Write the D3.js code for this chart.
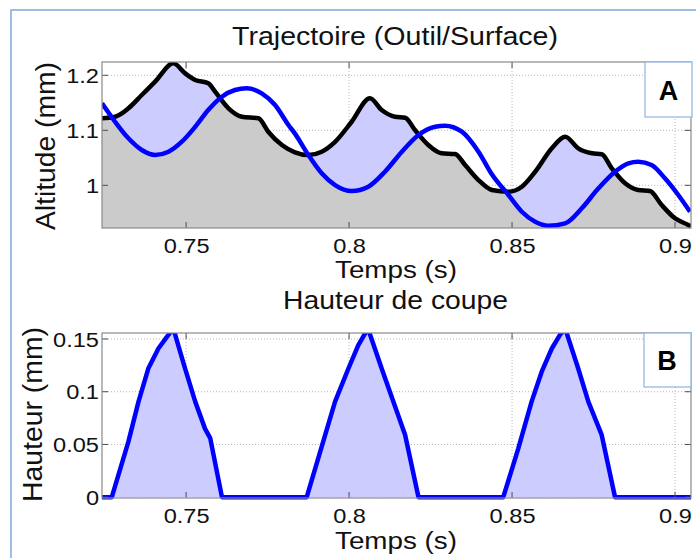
<!DOCTYPE html>
<html><head><meta charset="utf-8">
<script src="https://cdn.jsdelivr.net/npm/d3@7"></script>
<style>
html,body{margin:0;padding:0;background:#fff;}
svg{display:block;font-family:"Liberation Sans",Arial,Helvetica,sans-serif;}
</style></head>
<body>
<svg id="chart" width="696" height="558"></svg>
<script>
// ---- Data ----
const timeSurface = [0.7242,0.7282,0.7323,0.7364,0.7405,0.7461,0.7497,0.7528,0.7568,0.7589,0.7630,0.7671,0.7722,0.7752,0.7794,0.7834,0.7875,0.7916,0.7957,0.8008,0.8064,0.8100,0.8141,0.8172,0.8202,0.8243,0.8284,0.8325,0.8356,0.8397,0.8438,0.8489,0.8530,0.8571,0.8622,0.8663,0.8703,0.8745,0.8775,0.8806,0.8847,0.8887,0.8923,0.8959,0.9000,0.9041,0.9049];
const altSurface  = [1.122,1.1247,1.140,1.1642,1.1884,1.2218,1.2036,1.1915,1.1855,1.1702,1.140,1.1247,1.1218,1.0975,1.0733,1.060,1.055,1.061,1.079,1.1156,1.1582,1.1369,1.1247,1.123,1.1005,1.0733,1.0582,1.0569,1.0369,1.0096,0.9915,0.9884,0.9975,1.0247,1.0673,1.0884,1.0673,1.0582,1.0564,1.0309,1.0036,0.9915,0.9896,0.9642,0.940,0.9278,0.925];

const timeOutil = [0.7242,0.7282,0.7323,0.7364,0.7405,0.7446,0.7487,0.7528,0.7568,0.7610,0.7650,0.7686,0.7732,0.7773,0.7814,0.7834,0.7875,0.7916,0.7957,0.8008,0.8059,0.8110,0.8162,0.8213,0.8264,0.8294,0.8346,0.8397,0.8438,0.8489,0.8530,0.8571,0.8611,0.8663,0.8714,0.8765,0.8816,0.8857,0.8887,0.8928,0.8969,0.9010,0.9046];
const altOutil  = [1.149,1.1156,1.0855,1.0642,1.0551,1.0611,1.0793,1.1065,1.1369,1.1611,1.1733,1.1764,1.1673,1.146,1.1096,1.094,1.0551,1.0218,1.0005,0.9896,0.9975,1.0247,1.0611,1.0915,1.1065,1.1084,1.0975,1.0611,1.020,0.9824,0.952,0.9338,0.9265,0.9309,0.9582,0.9945,1.0247,1.040,1.0429,1.0369,1.0127,0.9824,0.952];

const timeCoupe = [0.7242,0.7272,0.7323,0.7354,0.7384,0.7415,0.7441,0.7461,0.7476,0.7497,0.7528,0.7558,0.7574,0.7610,0.7870,0.7957,0.7998,0.8028,0.8058,0.8100,0.8136,0.8172,0.8213,0.8473,0.8519,0.8560,0.8591,0.8622,0.8647,0.8663,0.8703,0.8734,0.8775,0.8816,0.9049];
const hauteurCoupe = [0,0,0.0527,0.0906,0.122,0.141,0.152,0.160,0.144,0.122,0.0906,0.065,0.056,0,0,0.0906,0.122,0.144,0.160,0.122,0.0906,0.059,0,0,0.046,0.0906,0.119,0.141,0.154,0.160,0.122,0.0906,0.059,0,0];

const xTicks = [0.75,0.8,0.85,0.9];
const xTickLabels = ["0.75","0.8","0.85","0.9"];
const yTicksA = [1,1.1,1.2];
const yTickLabelsA = ["1","1.1","1.2"];
const yTicksB = [0,0.05,0.1,0.15];
const yTickLabelsB = ["0","0.05","0.1","0.15"];

const titleA = "Trajectoire (Outil/Surface)";
const titleB = "Hauteur de coupe";
const xLabel = "Temps (s)";
const yLabelA = "Altitude (mm)";
const yLabelB = "Hauteur (mm)";

// ---- Layout ----
const svg = d3.select("#chart");
const X0 = 102, X1 = 691;
const A = {top:62, bottom:228};
const B = {top:333, bottom:498};
const xDomain = [0.7242, 0.9049];

const x = d3.scaleLinear().domain(xDomain).range([X0, X1]);
const yA = d3.scaleLinear().domain([0.9224, 1.2242]).range([A.bottom, A.top]);
const yB = d3.scaleLinear().domain([-0.0008, 0.1557]).range([B.bottom, B.top]);

const textColor = "#111";
const defs = svg.append("defs");

// outer frame
svg.append("rect").attr("x",11).attr("y",10).attr("width",700).attr("height",600)
  .attr("fill","none").attr("stroke","#86aede").attr("stroke-width",1.6);

function stretch(sel, f){
  sel.each(function(){
    const w = this.getComputedTextLength();
    d3.select(this).attr("textLength", w*f).attr("lengthAdjust","spacingAndGlyphs");
  });
}

function panel(P, y, yTicks, id){
  svg.append("rect").attr("x",X0).attr("y",P.top).attr("width",X1-X0).attr("height",P.bottom-P.top).attr("fill","#fff");
  defs.append("clipPath").attr("id","clip"+id).append("rect")
    .attr("x",X0).attr("y",P.top).attr("width",X1-X0).attr("height",P.bottom-P.top+3);
  const g = svg.append("g");
  g.selectAll("line.gx").data(xTicks).join("line")
    .attr("x1",d=>x(d)).attr("x2",d=>x(d)).attr("y1",P.top).attr("y2",P.bottom)
    .attr("stroke","#b5b5b5").attr("stroke-width",1).attr("stroke-dasharray","1,2");
  g.selectAll("line.gy").data(yTicks).join("line")
    .attr("y1",d=>y(d)).attr("y2",d=>y(d)).attr("x1",X0).attr("x2",X1)
    .attr("stroke","#b5b5b5").attr("stroke-width",1).attr("stroke-dasharray","1,2");
}

function frame(P, y, yTicks, yTickLabels){
  const g = svg.append("g");
  const tl = 6;
  const tk = "#4d4d4d";
  xTicks.forEach(t=>{
    g.append("line").attr("x1",x(t)).attr("x2",x(t)).attr("y1",P.bottom).attr("y2",P.bottom-tl).attr("stroke",tk);
    g.append("line").attr("x1",x(t)).attr("x2",x(t)).attr("y1",P.top).attr("y2",P.top+tl).attr("stroke",tk);
  });
  yTicks.forEach(t=>{
    g.append("line").attr("y1",y(t)).attr("y2",y(t)).attr("x1",X0).attr("x2",X0+tl).attr("stroke",tk);
    g.append("line").attr("y1",y(t)).attr("y2",y(t)).attr("x1",X1).attr("x2",X1-tl).attr("stroke",tk);
  });
  g.append("rect").attr("x",X0).attr("y",P.top).attr("width",X1-X0).attr("height",P.bottom-P.top)
    .attr("fill","none").attr("stroke","#8a8a8a").attr("stroke-width",1.2);

  const ax = svg.append("g").attr("transform",`translate(0,${P.bottom})`)
    .call(d3.axisBottom(x).tickValues(xTicks).tickFormat((d,i)=>xTickLabels[i]).tickSize(0).tickPadding(0));
  ax.select(".domain").remove();
  ax.selectAll("text").attr("y",25).attr("dy",null).attr("font-size",20).attr("fill",textColor)
    .attr("font-family","Liberation Sans, Arial, sans-serif");
  stretch(ax.selectAll("text"),1.18);

  const ay = svg.append("g").attr("transform",`translate(${X0},0)`)
    .call(d3.axisLeft(y).tickValues(yTicks).tickFormat((d,i)=>yTickLabels[i]).tickSize(0).tickPadding(3));
  ay.select(".domain").remove();
  ay.selectAll("text").attr("font-size",20).attr("fill",textColor).attr("dy","0.36em")
    .attr("font-family","Liberation Sans, Arial, sans-serif");
  stretch(ay.selectAll("text"),1.18);
}

// ---- Panel A ----
panel(A, yA, yTicksA, "A");
const surf = timeSurface.map((t,i)=>[t, altSurface[i]]);
const outil = timeOutil.map((t,i)=>[t, altOutil[i]]);
const curve = d3.curveMonotoneX;
const areaA = d3.area().x(d=>x(d[0])).y0(A.bottom).y1(d=>yA(d[1])).curve(curve);
const lineA = d3.line().x(d=>x(d[0])).y(d=>yA(d[1])).curve(curve);

defs.append("clipPath").attr("id","underSurf").append("path").attr("d", areaA(surf));
const gA = svg.append("g").attr("clip-path","url(#clipA)");
gA.append("path").attr("d", areaA(surf)).attr("fill","#ccccff");
gA.append("g").attr("clip-path","url(#underSurf)")
  .append("path").attr("d", areaA(outil)).attr("fill","#cbcbcb");
gA.append("path").attr("d", lineA(surf)).attr("fill","none").attr("stroke","#000").attr("stroke-width",4.5).attr("stroke-linejoin","round");
gA.append("path").attr("d", lineA(outil)).attr("fill","none").attr("stroke","#0000ff").attr("stroke-width",4.5).attr("stroke-linejoin","round");
frame(A, yA, yTicksA, yTickLabelsA);

// ---- Panel B ----
panel(B, yB, yTicksB, "B");
const coupe = timeCoupe.map((t,i)=>[t, hauteurCoupe[i]]);
const gB = svg.append("g").attr("clip-path","url(#clipB)");
gB.append("path").attr("d", d3.area().x(d=>x(d[0])).y0(yB(0)).y1(d=>yB(d[1]))(coupe)).attr("fill","#ccccff");
gB.append("path").attr("d", d3.line().x(d=>x(d[0])).y(d=>yB(d[1]))(coupe))
  .attr("fill","none").attr("stroke","#0000ff").attr("stroke-width",4.5).attr("stroke-linejoin","round");
frame(B, yB, yTicksB, yTickLabelsB);

// ---- Titles and labels ----
function label(txt, cx, cy, size, len, rot){
  const t = svg.append("text").text(txt).attr("font-size",size).attr("fill",textColor)
    .attr("text-anchor","middle").attr("textLength",len).attr("lengthAdjust","spacingAndGlyphs");
  if(rot) t.attr("transform",`translate(${cx},${cy}) rotate(-90)`);
  else t.attr("x",cx).attr("y",cy);
  return t;
}
label(titleA, 395, 45, 25, 326);
label(xLabel, 396, 278, 23, 122);
label(yLabelA, 55, 146, 27, 168, true);
label(titleB, 395.5, 309, 25, 225);
label(xLabel, 396, 549, 23, 122);
label(yLabelB, 42, 414.5, 27, 175, true);

// ---- Panel tags ----
function tag(txt, bx, by, bw, bh, cx, base){
  svg.append("rect").attr("x",bx).attr("y",by).attr("width",bw).attr("height",bh)
    .attr("fill","#fff").attr("stroke","#8eb4e3").attr("stroke-width",1.2);
  svg.append("text").text(txt).attr("x",cx).attr("y",base).attr("text-anchor","middle")
    .attr("font-size",27).attr("font-weight","bold").attr("fill","#000");
}
tag("A", 645, 62, 47, 55, 668.5, 100);
tag("B", 644, 333, 47, 54, 667, 370);
</script>
</body></html>
